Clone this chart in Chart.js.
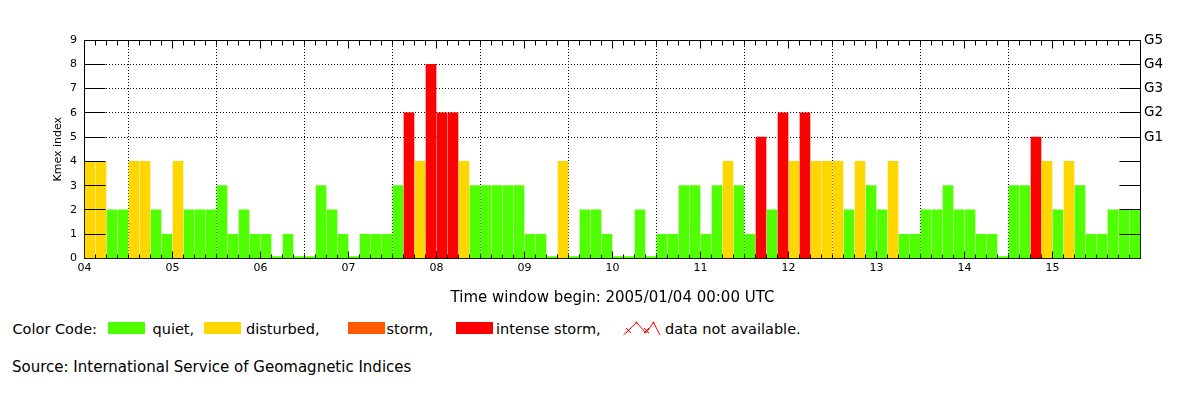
<!DOCTYPE html>
<html>
<head>
<meta charset="utf-8">
<script src="https://cdn.jsdelivr.net/npm/chart.js@4.4.1/dist/chart.umd.min.js"></script>
<style>
  html, body { margin: 0; padding: 0; background: #fff; }
  #wrap { position: relative; width: 1200px; height: 400px; overflow: hidden; font-family: "DejaVu Sans", sans-serif; color: #000; }
  #cbox { position: absolute; left: 0; top: 0; width: 1200px; height: 300px; }
  .t { position: absolute; white-space: nowrap; }
  .sw { position: absolute; width: 37px; height: 12px; }
</style>
</head>
<body>
<div id="wrap">
  <div id="cbox"><canvas id="c"></canvas></div>
  <div class="t" id="xtitle" style="left:84.5px; width:1056px; text-align:center; top:290px; font-size:15px; line-height:15px;"></div>
  <div id="legend"></div>
  <div class="t" id="source" style="left:12px; top:360px; font-size:15px; line-height:15px;"></div>
</div>
<script>
// ---- data ----
const dayLabels = ['04','05','06','07','08','09','10','11','12','13','14','15'];
const kmex = [
  4,4,2,2,4,4,2,1,   // 04
  4,2,2,2,3,1,2,1,   // 05
  1,0,1,0,0,3,2,1,   // 06
  0,1,1,1,3,6,4,8,   // 07
  6,6,4,3,3,3,3,3,   // 08
  1,1,0,4,0,2,2,1,   // 09
  0,0,2,0,1,1,3,3,   // 10
  1,3,4,3,1,5,2,6,   // 11
  4,6,4,4,4,2,4,3,   // 12
  2,4,1,1,2,2,3,2,   // 13
  2,1,1,0,3,3,5,4,   // 14
  2,4,3,1,1,2,2,2    // 15
];
const yTickValues = [0,1,2,3,4,5,6,7,8,9];
const gLabels = ['G1','G2','G3','G4','G5'];   // at Kmex 5..9
const legendNames = ['quiet,', 'disturbed,', 'storm,', 'intense storm,'];
const xTitle = 'Time window begin: 2005/01/04 00:00 UTC';
const yTitle = 'Kmex index';
const sourceText = 'Source: International Service of Geomagnetic Indices';
const colorCodeLabel = 'Color Code:';
const naLabel = 'data not available.';

// ---- styles ----
const C_QUIET = '#50ff00', C_DIST = '#ffd700', C_STORM = '#ff5a00', C_INT = '#ff0000';
const colorFor = v => v >= 5 ? C_INT : (v === 4 ? C_DIST : C_QUIET);
const PER_DAY = 8;

document.getElementById('xtitle').textContent = xTitle;
document.getElementById('source').textContent = sourceText;

// legend (HTML)
(function () {
  const lg = document.getElementById('legend');
  const add = (html) => lg.insertAdjacentHTML('beforeend', html);
  const txt = (s, left) => add('<div class="t" style="left:' + left + 'px; top:322px; font-size:14.5px; line-height:14.5px;">' + s + '</div>');
  const sw = (c, left) => add('<div class="sw" style="left:' + left + 'px; top:322px; background:' + c + ';"></div>');
  txt(colorCodeLabel, 12.5);
  sw(C_QUIET, 108); txt(legendNames[0], 152.5);
  sw(C_DIST, 204); txt(legendNames[1], 246);
  sw(C_STORM, 348); txt(legendNames[2], 386.5);
  sw(C_INT, 456); txt(legendNames[3], 496);
  add('<svg style="position:absolute; left:620px; top:318px;" width="44" height="20" viewBox="0 0 44 20">' +
      '<polyline points="3.5,17 16.5,4.5 26,15 33.5,4.5 40,17" fill="none" stroke="#ff0000" stroke-width="1"/>' +
      '<path d="M6,10 l5,5 M11,10 l-5,5 M24,10 l5,5 M29,10 l-5,5" stroke="#ff0000" stroke-width="1"/>' +
      '<circle cx="16.5" cy="4.5" r="1" fill="#ff0000"/><circle cx="33.5" cy="4.5" r="1" fill="#ff0000"/>' +
      '</svg>');
  txt(naLabel, 665);
})();

// frame + inner ticks plugin
const framePlugin = {
  id: 'framePlugin',
  afterDatasetsDraw(chart) {
    const { ctx, chartArea: a, scales } = chart;
    const xs = scales.x, ys = scales.y;
    const al = p => Math.floor(p) + 0.5;
    ctx.save();
    ctx.strokeStyle = '#000';
    ctx.lineWidth = 1;
    ctx.beginPath();
    // top border
    ctx.moveTo(al(a.left), al(a.top)); ctx.lineTo(al(a.right), al(a.top));
    // inner y ticks on both sides
    yTickValues.forEach(v => {
      if (v === 0 || v === 9) return;
      const py = al(ys.getPixelForValue(v));
      ctx.moveTo(al(a.left), py); ctx.lineTo(al(a.left) + 21, py);
      ctx.moveTo(al(a.right) - 21, py); ctx.lineTo(al(a.right), py);
    });
    // 3-hour minor ticks on top and bottom
    for (let k = 1; k < kmex.length; k++) {
      const px = al(xs.getPixelForValue(k));
      const isDay = k % PER_DAY === 0;
      ctx.moveTo(px, al(a.top)); ctx.lineTo(px, al(a.top) + (isDay ? 8 : 5));
      ctx.moveTo(px, al(a.bottom)); ctx.lineTo(px, al(a.bottom) - (isDay ? 7 : 4));
    }
    ctx.stroke();
    ctx.restore();
  }
};

Chart.defaults.font.family = '"DejaVu Sans", sans-serif';
Chart.defaults.color = '#000';

new Chart(document.getElementById('c'), {
  type: 'bar',
  data: {
    datasets: [{
      data: kmex.map((v, i) => ({ x: i + 0.5, y: v })),
      backgroundColor: kmex.map(colorFor),
      borderWidth: 0,
      barThickness: 10,
      minBarLength: 2
    }]
  },
  options: {
    responsive: true,
    maintainAspectRatio: false,
    animation: false,
    events: [],
    layout: { padding: { top: 40, left: 0, right: 0, bottom: 0 } },
    plugins: { legend: { display: false }, tooltip: { enabled: false }, title: { display: false } },
    scales: {
      x: {
        type: 'linear',
        min: 0,
        max: kmex.length,
        offset: false,
        afterBuildTicks: s => { s.ticks = dayLabels.map((d, i) => ({ value: i * PER_DAY })).concat([{ value: kmex.length }]); },
        ticks: {
          autoSkip: false,
          maxRotation: 0,
          padding: 3,
          font: { size: 11 },
          callback: v => dayLabels[v / PER_DAY] !== undefined ? dayLabels[v / PER_DAY] : ''
        },
        grid: {
          drawTicks: false,
          color: c => (c.tick && c.tick.value > 0 && c.tick.value < kmex.length) ? '#000' : 'rgba(0,0,0,0)'
        },
        border: { display: true, color: '#000', width: 1, dash: [1, 2] },
        afterFit: s => { s.height = 41.5; }
      },
      y: {
        type: 'linear',
        position: 'left',
        min: 0,
        max: 9,
        afterBuildTicks: s => { s.ticks = yTickValues.map(v => ({ value: v })); },
        ticks: { padding: 7.5, font: { size: 11 } },
        grid: {
          drawTicks: false,
          color: c => (c.tick && c.tick.value >= 5 && c.tick.value <= 8) ? '#000' : 'rgba(0,0,0,0)'
        },
        border: { display: true, color: '#000', width: 1, dash: [1, 2] },
        title: { display: true, text: yTitle, font: { size: 11 }, padding: { top: 52, bottom: 0 } },
        afterFit: s => { s.width = 84.5; }
      },
      y2: {
        type: 'linear',
        position: 'right',
        min: 0,
        max: 9,
        afterBuildTicks: s => { s.ticks = yTickValues.map(v => ({ value: v })); },
        ticks: {
          padding: 3.5,
          font: { size: 13.5 },
          callback: v => v >= 5 ? gLabels[v - 5] : ''
        },
        grid: { display: false, drawTicks: false },
        border: { display: true, color: '#000', width: 1 },
        afterFit: s => { s.width = 59.5; }
      }
    }
  },
  plugins: [framePlugin]
});
</script>
</body>
</html>
